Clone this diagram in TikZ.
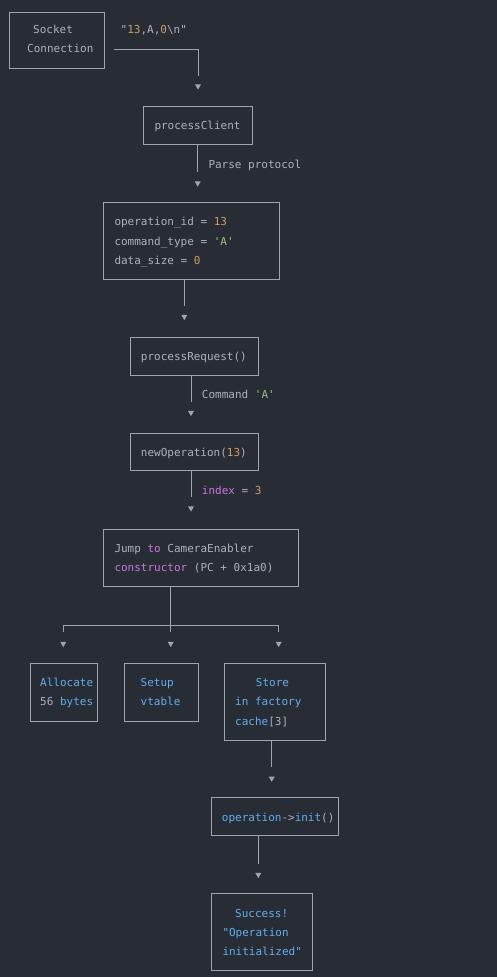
\documentclass[tikz,border=0pt]{standalone}
\usepackage{fontspec}
\setmonofont{DejaVu Sans Mono}
\usetikzlibrary{calc}
\definecolor{bg}{HTML}{282C34}
\definecolor{fg}{HTML}{ABB2BF}
\definecolor{ln}{HTML}{9DA5B4}
\definecolor{num}{HTML}{D19A66}
\definecolor{str}{HTML}{98C379}
\definecolor{kw}{HTML}{C678DD}
\definecolor{fn}{HTML}{61AFEF}
\newcommand\Q{\symbol{39}}
\newcommand\DQ{\symbol{34}}
\newcommand\BS{\symbol{92}}
\newcommand\downtip[1]{\fill[ln] (#1) +(-3,-2.6) -- +(3,-2.6) -- +(0,2.6) -- cycle;}
\begin{document}
\begin{tikzpicture}[x=1pt,y=-1pt,
  box/.style={draw=ln, line width=0.9pt, rectangle, inner sep=0pt},
  txt/.style={anchor=base west, inner sep=0pt, text=fg, font=\ttfamily\fontsize{11}{13}\selectfont},
  conn/.style={draw=ln, line width=0.9pt}]
\path[use as bounding box, fill=bg] (0,0) rectangle (497,977);

% boxes
\node[box, minimum width=95pt,   minimum height=56.3pt] (socket)  at (56.8,40.15) {};
\node[box, minimum width=108.3pt,minimum height=38.3pt] (client)  at (197.85,125.15) {};
\node[box, minimum width=175.7pt,minimum height=76.6pt] (data)    at (191.15,241) {};
\node[box, minimum width=128.4pt,minimum height=37.3pt] (request) at (194.5,356.35) {};
\node[box, minimum width=128.4pt,minimum height=37pt]   (newop)   at (194.5,452.2) {};
\node[box, minimum width=195.4pt,minimum height=56.7pt] (jump)    at (201,557.65) {};
\node[box, minimum width=67.7pt, minimum height=57.7pt] (alloc)   at (63.85,692.15) {};
\node[box, minimum width=74.3pt, minimum height=57.7pt] (setup)   at (161.15,692.15) {};
\node[box, minimum width=101.4pt,minimum height=76.7pt] (store)   at (275,701.65) {};
\node[box, minimum width=127pt,  minimum height=38.4pt] (init)    at (275.2,816.5) {};
\node[box, minimum width=101.3pt,minimum height=76.7pt] (success) at (261.65,931.65) {};

% texts
\node[txt] (t-socket1) at (33,33) {Socket};
\node[txt] (t-socket2) at (27,52.3) {Connection};
\node[txt] (t-msg) at (120.5,33) {\DQ\textcolor{num}{13},A,\textcolor{num}{0}\BS n\DQ};
\node[txt] (t-client) at (154.3,129.3) {processClient};
\node[txt] (t-parse) at (208.3,168) {Parse protocol};
\node[txt] (t-d1) at (114.3,225.7) {operation\_id = \textcolor{num}{13}};
\node[txt] (t-d2) at (114.3,245) {command\_type = \textcolor{str}{\Q A\Q}};
\node[txt] (t-d3) at (114.3,264.3) {data\_size = \textcolor{num}{0}};
\node[txt] (t-req) at (140.7,360.7) {processRequest()};
\node[txt] (t-cmd) at (201.7,398.3) {Command \textcolor{str}{\Q A\Q}};
\node[txt] (t-newop) at (140.7,456.7) {newOperation(\textcolor{num}{13})};
\node[txt] (t-index) at (201.7,494) {\textcolor{kw}{index} = \textcolor{num}{3}};
\node[txt] (t-j1) at (114.3,552.3) {Jump \textcolor{kw}{to} CameraEnabler};
\node[txt] (t-j2) at (114.3,571.3) {\textcolor{kw}{constructor} (PC + 0x1a0)};
\node[txt,text=fn] (t-a1) at (40,686.3) {Allocate};
\node[txt] (t-a2) at (40,705.7) {56 \textcolor{fn}{bytes}};
\node[txt,text=fn] (t-s1) at (140.5,686.3) {Setup};
\node[txt,text=fn] (t-s2) at (140.5,705.7) {vtable};
\node[txt,text=fn] (t-c1) at (255.7,686.3) {Store};
\node[txt,text=fn] (t-c2) at (235,705.7) {in factory};
\node[txt] (t-c3) at (235,725) {\textcolor{fn}{cache}[3]};
\node[txt] (t-init) at (221.7,821.3) {\textcolor{fn}{operation}\textcolor{fg}{-\symbol{62}}\textcolor{fn}{init}()};
\node[txt,text=fn] (t-ok1) at (235,917.3) {Success!};
\node[txt,text=fn] (t-ok2) at (222.3,936.3) {\DQ Operation};
\node[txt,text=fn] (t-ok3) at (222.3,955.3) {initialized\DQ};

% connector points
\coordinate (s1) at (114,49);
\coordinate (a1) at (198,87);
\coordinate (a2) at (197.7,184);
\coordinate (a3) at (184.3,317.5);
\coordinate (a4) at (191,413.5);
\coordinate (a5) at (191,509);
\coordinate (j)  at (170.7,625);
\coordinate (jl) at (63.3,625);
\coordinate (jr) at (278.7,625);
\coordinate (b1) at (63.3,644.5);
\coordinate (b2) at (170.7,644.5);
\coordinate (b3) at (278.7,644.5);
\coordinate (a6) at (271.7,779.2);
\coordinate (a7) at (258.3,875.5);

% connectors
\draw[conn] (s1) -| ([yshift=11pt]a1);
\draw[conn] (client.south -| a2) -- ([yshift=12pt]a2);
\draw[conn] (data.south -| a3) -- ([yshift=12pt]a3);
\draw[conn] (request.south -| a4) -- ([yshift=12pt]a4);
\draw[conn] (newop.south -| a5) -- ([yshift=12pt]a5);
\draw[conn] (jump.south -| j) -- (j);
\draw[conn] (jl) -- (jr);
\draw[conn] (jl) -- ([yshift=12.5pt]b1);
\draw[conn] (j)  -- ([yshift=12.5pt]b2);
\draw[conn] (jr) -- ([yshift=12.5pt]b3);
\draw[conn] (store.south -| a6) -- ([yshift=12pt]a6);
\draw[conn] (init.south -| a7) -- ([yshift=12pt]a7);

\downtip{a1}\downtip{a2}\downtip{a3}\downtip{a4}\downtip{a5}
\downtip{b1}\downtip{b2}\downtip{b3}\downtip{a6}\downtip{a7}
\end{tikzpicture}
\end{document}
